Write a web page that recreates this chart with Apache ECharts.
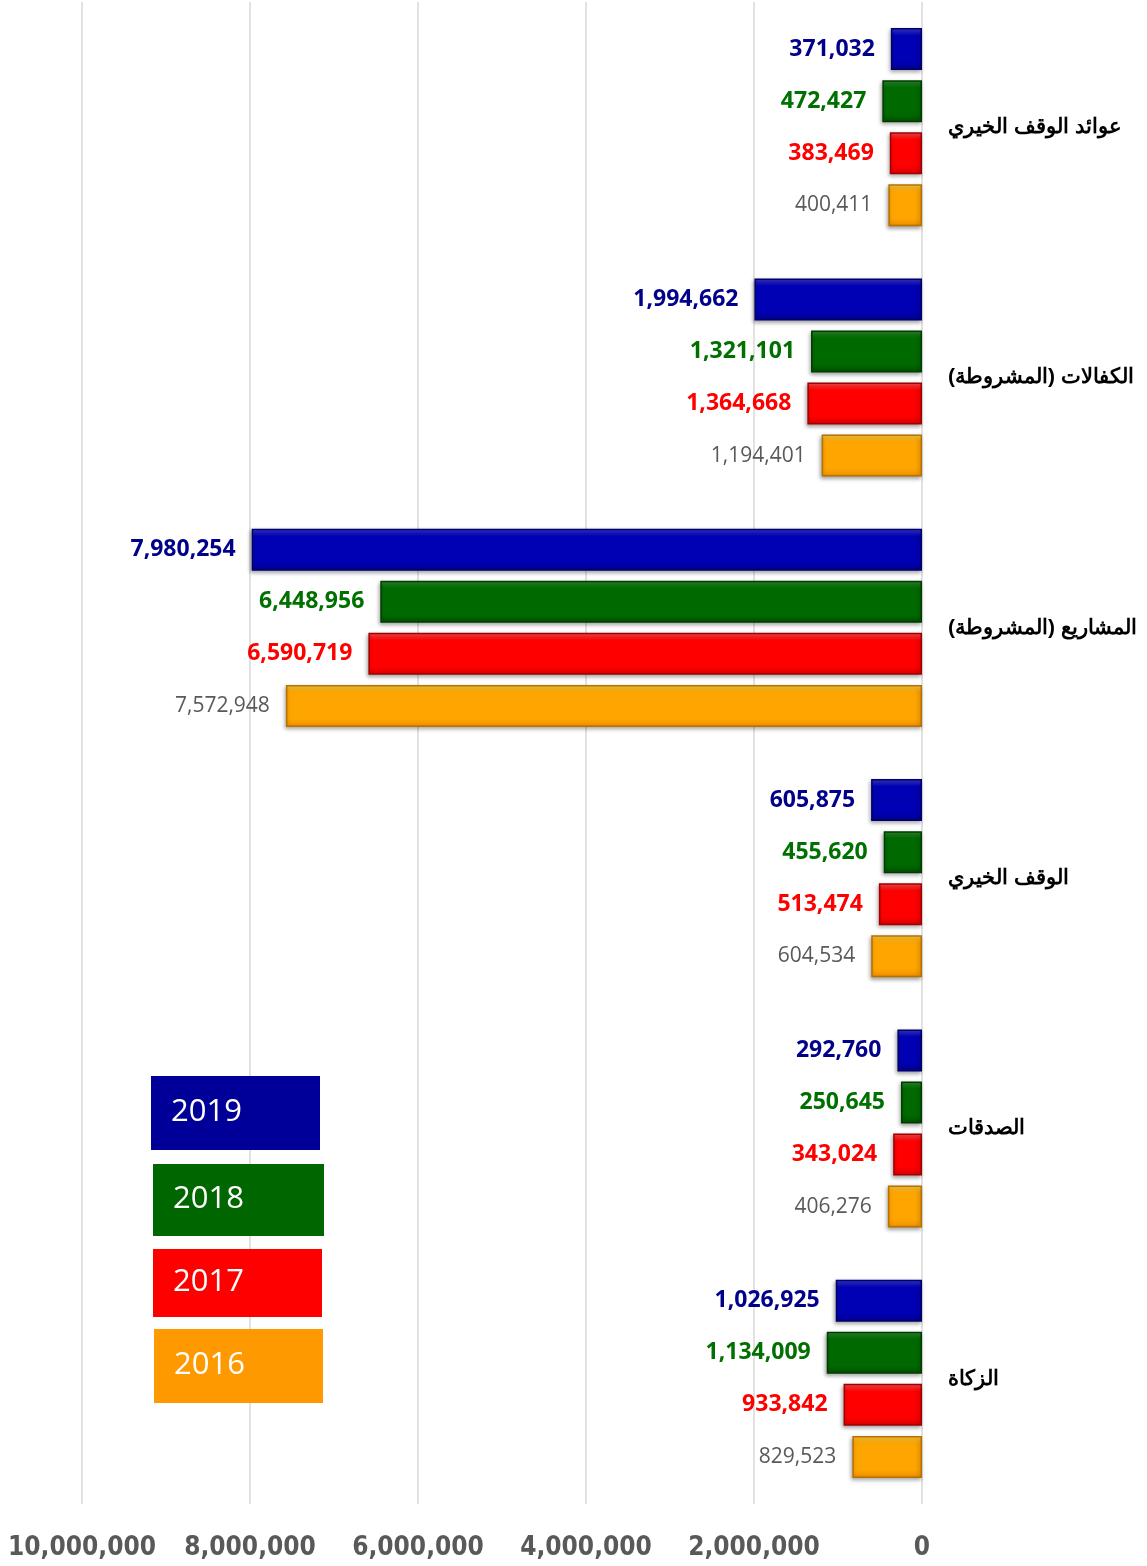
<!DOCTYPE html>
<html>
<head>
<meta charset="utf-8">
<script src="https://cdn.jsdelivr.net/npm/echarts@6/dist/echarts.min.js"></script>
<style>
  html, body { margin: 0; padding: 0; background: #fff; }
  #main { width: 1147px; height: 1566px; }
</style>
</head>
<body>
<div id="main"></div>
<script>
// categories, top to bottom
var categories = ['عوائد الوقف الخيري', 'الكفالات (المشروطة)', 'المشاريع (المشروطة)', 'الوقف الخيري', 'الصدقات', 'الزكاة'];
var years = ['2019', '2018', '2017', '2016'];

var v2019 = [371032, 1994662, 7980254, 605875, 292760, 1026925];
var v2018 = [472427, 1321101, 6448956, 455620, 250645, 1134009];
var v2017 = [383469, 1364668, 6590719, 513474, 343024, 933842];
var v2016 = [400411, 1194401, 7572948, 604534, 406276, 829523];

var xTicks = [0, 2000000, 4000000, 6000000, 8000000, 10000000];

var values = [v2019, v2018, v2017, v2016];
// bar colours: top light, middle, bottom dark, border
var barColors = [
  ['#3a3ad6', '#0000b4', '#00008a', '#00006a'],
  ['#2e8c2e', '#006a00', '#004f00', '#003c00'],
  ['#ff5050', '#ff0000', '#d80000', '#a00000'],
  ['#ffd040', '#ffa500', '#f09000', '#b87000']
];
var labelColors = ['#00008b', '#007000', '#ff0000', '#595959'];
var legendColors = ['#000099', '#006600', '#ff0000', '#ff9900'];

function fmt(n) {
  return n.toString().replace(/\B(?=(\d{3})+(?!\d))/g, ',');
}

var series = [];
for (var i = 0; i < years.length; i++) {
  var c = barColors[i];
  series.push({
    name: years[i],
    type: 'bar',
    data: values[i],
    barWidth: 42,
    barGap: '24%',
    barCategoryGap: '20%',
    itemStyle: {
      color: {
        type: 'linear', x: 0, y: 0, x2: 0, y2: 1,
        colorStops: [
          { offset: 0, color: c[0] },
          { offset: 0.18, color: c[1] },
          { offset: 0.8, color: c[1] },
          { offset: 1, color: c[2] }
        ]
      },
      borderColor: c[3],
      borderWidth: 1.5,
      shadowColor: 'rgba(0,0,0,0.35)',
      shadowBlur: 4,
      shadowOffsetX: -1,
      shadowOffsetY: 2
    },
    label: {
      show: true,
      position: 'left',
      distance: 16,
      color: labelColors[i],
      fontFamily: '"Open Sans", "DejaVu Sans", sans-serif',
      fontSize: i < 3 ? 23 : 21,
      fontWeight: i < 3 ? 'bold' : 'normal',
      formatter: function (p) { return fmt(p.value); }
    }
  });
}

// legend boxes
var legendBoxes = [
  { x: 151, y: 1076, w: 169, h: 74 },
  { x: 153, y: 1164, w: 171, h: 72 },
  { x: 153, y: 1249, w: 169, h: 68 },
  { x: 154, y: 1329, w: 169, h: 74 }
];
var graphic = [];
for (var j = 0; j < years.length; j++) {
  var b = legendBoxes[j];
  graphic.push({
    type: 'rect',
    left: b.x, top: b.y,
    shape: { width: b.w, height: b.h },
    style: { fill: legendColors[j] },
    z: 10
  });
  graphic.push({
    type: 'text',
    left: b.x + 20, top: b.y + b.h / 2 - 16,
    style: {
      text: years[j],
      fill: '#fff',
      font: '31px "Open Sans", sans-serif'
    },
    z: 11
  });
}

var option = {
  animation: false,
  grid: { left: 82, right: 225, top: 2, bottom: 62, containLabel: false },
  xAxis: {
    type: 'value',
    inverse: true,
    min: 0,
    max: 10000000,
    interval: 2000000,
    axisLine: { show: false },
    axisTick: { show: false },
    splitLine: { show: true, lineStyle: { color: '#d9d9d9', width: 1.5 } },
    axisLabel: {
      margin: 31,
      color: '#595959',
      fontFamily: '"Liberation Sans Narrow", "DejaVu Sans Condensed", sans-serif',
      fontWeight: 'bold',
      fontSize: 26,
      formatter: function (v) { return fmt(v); }
    }
  },
  yAxis: {
    type: 'category',
    inverse: true,
    position: 'right',
    data: categories,
    axisLine: { show: false },
    axisTick: { show: false },
    axisLabel: {
      margin: 26,
      align: 'left',
      color: '#000',
      fontFamily: '"Liberation Sans", Arial, sans-serif',
      fontWeight: 'bold',
      fontSize: 21
    }
  },
  series: series,
  graphic: graphic
};

var myChart = echarts.init(document.getElementById('main'));
myChart.setOption(option);
</script>
</body>
</html>
